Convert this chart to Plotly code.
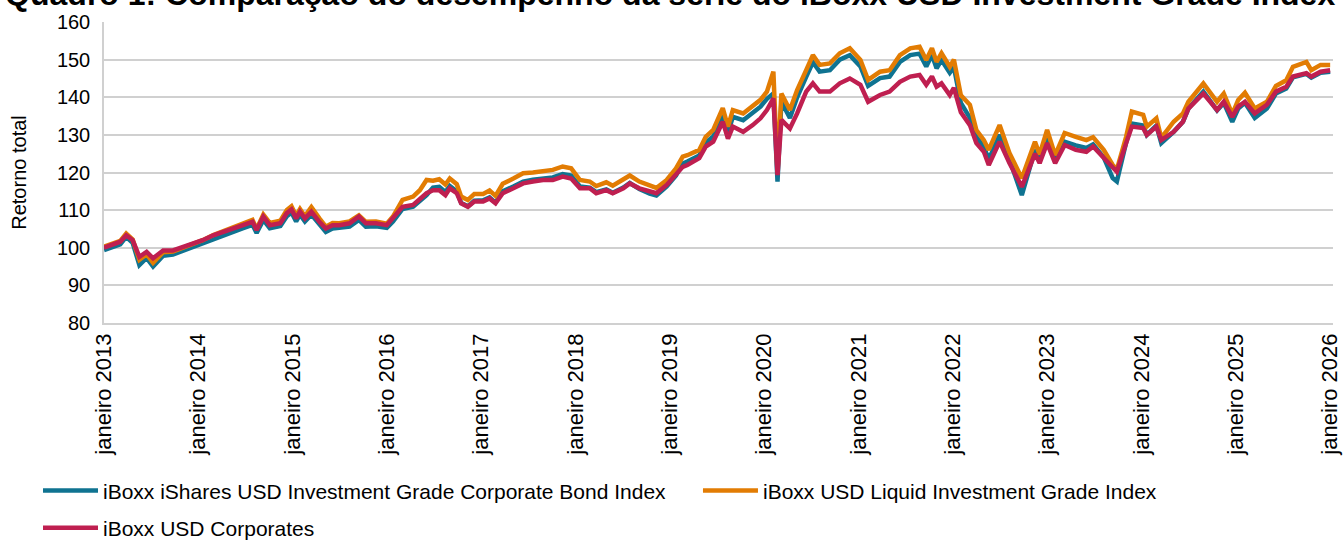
import plotly.graph_objects as go

# ---------------- data ----------------
dates = [
    "2013-01-01", "2013-01-25", "2013-03-05", "2013-03-28", "2013-04-22", "2013-05-18",
    "2013-06-15", "2013-07-10", "2013-08-18", "2013-09-25", "2013-11-02", "2013-12-12",
    "2014-01-18", "2014-02-28", "2014-04-05", "2014-05-15", "2014-06-24", "2014-07-30",
    "2014-08-15", "2014-09-10", "2014-10-05", "2014-11-15", "2014-12-10", "2014-12-28",
    "2015-01-15", "2015-01-30", "2015-02-18", "2015-03-15", "2015-04-15", "2015-05-10",
    "2015-06-05", "2015-07-01", "2015-08-10", "2015-09-15", "2015-10-12", "2015-11-20",
    "2016-01-01", "2016-01-25", "2016-03-02", "2016-04-12", "2016-05-08", "2016-06-03",
    "2016-06-28", "2016-07-22", "2016-08-15", "2016-09-01", "2016-09-28", "2016-10-15",
    "2016-11-10", "2016-12-05", "2017-01-08", "2017-02-02", "2017-02-25", "2017-03-25",
    "2017-05-05", "2017-06-12", "2017-07-20", "2017-08-28", "2017-10-05", "2017-11-12",
    "2017-12-15", "2018-01-18", "2018-02-25", "2018-03-22", "2018-04-30", "2018-05-25",
    "2018-07-05", "2018-07-30", "2018-09-05", "2018-10-15", "2018-11-10", "2018-12-20",
    "2019-01-25", "2019-02-20", "2019-03-10", "2019-04-25", "2019-05-20", "2019-06-18",
    "2019-07-25", "2019-08-14", "2019-09-02", "2019-10-12", "2019-11-18", "2019-12-18",
    "2020-01-12", "2020-02-06", "2020-02-22", "2020-03-08", "2020-04-10", "2020-05-08",
    "2020-06-12", "2020-07-08", "2020-08-03", "2020-09-12", "2020-10-20", "2020-11-28",
    "2021-01-08", "2021-02-07", "2021-03-25", "2021-05-01", "2021-06-10", "2021-07-20",
    "2021-08-25", "2021-09-20", "2021-10-12", "2021-10-30", "2021-11-18", "2021-12-20",
    "2022-01-05", "2022-02-01", "2022-03-08", "2022-04-02", "2022-05-01", "2022-05-20",
    "2022-07-01", "2022-08-08", "2022-09-25", "2022-11-15", "2022-12-03", "2023-01-01",
    "2023-02-01", "2023-03-10", "2023-04-22", "2023-06-02", "2023-06-28", "2023-08-08",
    "2023-09-12", "2023-09-28", "2023-11-03", "2023-11-25", "2024-01-08", "2024-01-22",
    "2024-02-28", "2024-03-18", "2024-05-05", "2024-06-10", "2024-07-01", "2024-08-28",
    "2024-10-20", "2024-11-15", "2024-12-18", "2025-01-10", "2025-02-05", "2025-03-15",
    "2025-05-01", "2025-06-05", "2025-07-15", "2025-08-10", "2025-10-01", "2025-10-20",
    "2025-11-25", "2026-01-01",
]

corporates = [
    100.0, 100.6, 101.6, 103.3, 102.0, 97.6,
    98.9, 97.2, 99.3, 99.3, 100.2, 101.1,
    102.0, 103.3, 104.2, 105.1, 106.0, 106.9,
    104.7, 108.3, 106.0, 106.5, 109.2, 110.2,
    107.8, 109.6, 107.8, 109.6, 106.9, 105.1,
    106.0, 106.0, 106.5, 108.3, 106.5, 106.5,
    106.0, 107.8, 110.9, 111.4, 113.1, 114.5,
    115.3, 115.3, 114.0, 115.8, 114.5, 111.8,
    110.9, 112.3, 112.3, 113.1, 111.8, 114.5,
    115.8, 117.1, 117.6, 118.0, 118.0, 118.9,
    118.4, 115.8, 115.8, 114.5, 115.3, 114.5,
    115.8, 117.1, 115.8, 114.9, 114.5, 116.7,
    119.3, 121.5, 122.0, 123.8, 126.9, 128.2,
    133.5, 129.0, 132.2, 130.8, 132.6, 134.4,
    136.6, 139.7, 119.3, 134.0, 131.7, 135.7,
    141.5, 143.7, 141.5, 141.5, 143.7, 145.0,
    143.3, 138.8, 140.6, 141.5, 144.1, 145.5,
    145.9, 143.3, 145.5, 142.8, 143.7, 140.6,
    142.5, 136.0, 132.6, 127.8, 125.5, 122.0,
    128.2, 122.5, 116.2, 125.0, 122.5, 127.8,
    122.5, 127.3, 126.0, 125.5, 126.9, 123.8,
    121.2, 120.2, 127.8, 132.2, 131.8, 130.0,
    132.2, 128.6, 130.8, 133.5, 137.0, 141.0,
    136.6, 138.8, 134.8, 137.5, 138.8, 135.7,
    138.0, 141.5, 142.8, 145.5, 146.4, 145.5,
    146.8, 147.2,
]

liquid = [
    100.3, 100.9, 101.8, 103.8, 102.2, 96.8,
    98.3, 96.0, 98.8, 99.0, 100.0, 101.0,
    102.0, 103.4, 104.4, 105.4, 106.4, 107.4,
    105.0, 108.8, 106.6, 107.2, 110.0, 111.0,
    108.5, 110.3, 108.4, 110.8, 107.8, 105.6,
    106.6, 106.5, 107.0, 108.6, 106.9, 107.0,
    106.4, 108.3, 112.7, 113.6, 115.3, 118.0,
    117.8, 118.2, 116.8, 118.4, 116.9, 113.6,
    112.7, 114.3, 114.3, 115.2, 113.8, 117.0,
    118.4, 119.8, 120.0, 120.3, 120.7, 121.6,
    121.1, 118.0, 117.6, 116.4, 117.4, 116.5,
    118.0, 119.2, 117.6, 116.5, 115.9, 118.0,
    121.1, 124.2, 124.6, 126.0, 129.5, 131.3,
    137.1, 132.2, 136.6, 135.7, 137.9, 139.3,
    141.5, 146.8, 120.0, 141.0, 136.6, 141.9,
    147.2, 151.2, 148.6, 149.0, 151.7, 153.0,
    149.9, 144.6, 146.8, 147.2, 151.2, 153.0,
    153.4, 149.9, 153.0, 149.4, 151.7, 148.1,
    150.0, 140.5, 138.0, 131.3, 128.6, 126.0,
    132.6, 125.2, 118.5, 128.2, 124.8, 131.3,
    124.6, 130.5, 129.5, 128.6, 129.4, 126.0,
    122.0, 120.8, 129.5, 136.2, 135.3, 132.2,
    134.4, 129.2, 133.5, 135.7, 138.8, 143.7,
    138.8, 141.0, 135.5, 139.3, 141.2, 137.0,
    138.8, 143.0, 144.5, 148.1, 149.4, 147.2,
    148.6, 148.6,
]

ishares = [
    99.4, 99.9, 100.9, 102.9, 101.3, 95.4,
    97.3, 95.0, 97.9, 98.2, 99.2, 100.2,
    101.1, 102.4, 103.4, 104.3, 105.2, 106.1,
    103.9, 107.4, 105.2, 105.8, 108.4, 109.4,
    107.0, 108.8, 107.0, 108.8, 106.0, 104.2,
    105.1, 105.2, 105.6, 107.4, 105.6, 105.7,
    105.3, 107.0, 110.3, 110.9, 112.5, 114.0,
    116.0, 116.2, 114.8, 116.4, 115.0, 111.9,
    111.0, 112.5, 112.6, 113.4, 112.0, 115.0,
    116.3, 117.6, 118.1, 118.5, 118.7, 119.6,
    119.2, 116.3, 116.0, 114.8, 115.5, 114.6,
    116.0, 117.2, 115.6, 114.4, 113.9, 116.3,
    119.2, 122.4, 122.9, 124.5, 127.9, 129.6,
    135.3, 130.5, 134.8, 133.9, 136.1, 137.5,
    139.6, 141.0, 117.6, 138.8, 134.5, 140.0,
    145.4, 149.3, 146.8, 147.2, 150.0, 151.2,
    148.2, 143.0, 145.1, 145.5, 149.4, 151.2,
    151.6, 148.2, 151.2, 147.7, 149.9, 146.5,
    148.0, 138.5, 134.5, 129.5, 126.8, 123.5,
    130.0, 123.5, 114.0, 126.0, 123.0, 129.0,
    123.0, 128.2, 127.2, 126.5, 127.5, 124.0,
    118.5, 117.6, 128.0, 133.0, 132.5, 130.0,
    132.5, 127.8, 130.8, 133.5, 137.0, 141.5,
    136.5, 138.5, 133.5, 137.0, 138.5, 134.5,
    137.0, 141.0, 142.3, 145.3, 146.2, 145.2,
    146.5, 146.8,
]

tick_years = list(range(2013, 2027))
tick_labels = [f"janeiro {y}" for y in tick_years]
tick_dates = [f"{y}-01-01" for y in tick_years]

series_names = [
    "iBoxx iShares USD Investment Grade Corporate Bond Index",
    "iBoxx USD Liquid Investment Grade Index",
    "iBoxx USD Corporates",
]
series_colors = ["#0F7391", "#E27C03", "#BF1F50"]

title_text = "Quadro 1: Comparação do desempenho da série do iBoxx USD Investment Grade Index"

# ---------------- figure ----------------
FONT = "Liberation Sans, Arial, sans-serif"
fig = go.Figure()
for name, vals, col, leg in zip(series_names, [ishares, liquid, corporates], series_colors,
                                ["legend", "legend2", "legend3"]):
    fig.add_trace(go.Scatter(
        x=dates, y=vals, name=name, mode="lines",
        line=dict(color=col, width=4.5), legend=leg,
    ))

legend_common = dict(
    orientation="h", xanchor="left", yanchor="middle",
    font=dict(family=FONT, size=21, color="#000000"),
    bgcolor="rgba(0,0,0,0)", borderwidth=0, itemwidth=55,
)

fig.update_layout(
    width=1343, height=540,
    margin=dict(l=104, r=10, t=22, b=217, autoexpand=False),
    paper_bgcolor="white", plot_bgcolor="white",
    font=dict(family=FONT, size=20, color="#000000"),
    title=dict(text=title_text, x=0.499, xanchor="center", xref="container",
               y=0.991, yanchor="bottom", yref="container",
               font=dict(family=FONT, size=32, color="#000000", weight="bold")),
    xaxis=dict(
        type="date", range=["2013-01-01", "2026-01-12"],
        tickvals=tick_dates, ticktext=tick_labels, tickangle=-90,
        tickfont=dict(family=FONT, size=22, color="#000000"),
        showgrid=False, showline=True, linecolor="#d0d0d0", linewidth=1.5,
        ticks="", zeroline=False,
    ),
    yaxis=dict(
        range=[80, 160], dtick=10, tickfont=dict(family=FONT, size=20, color="#000000"),
        ticklabelstandoff=8,
        showgrid=True, gridcolor="#d0d0d0", gridwidth=1.5,
        showline=True, linecolor="#d0d0d0", linewidth=1.5, ticks="", zeroline=False,
        title=dict(text="Retorno total", font=dict(family=FONT, size=20, color="#000000"),
                   standoff=25),
    ),
    legend=dict(x=-0.0537, y=-0.558, **legend_common),
    legend2=dict(x=0.4833, y=-0.558, **legend_common),
    legend3=dict(x=-0.0537, y=-0.681, **legend_common),
    showlegend=True,
)

# remove the browser's default 8px page margin so the figure fills the window exactly
fig.write_html("out.html", config={"displayModeBar": False},
               post_script="document.body.style.margin='0';")
